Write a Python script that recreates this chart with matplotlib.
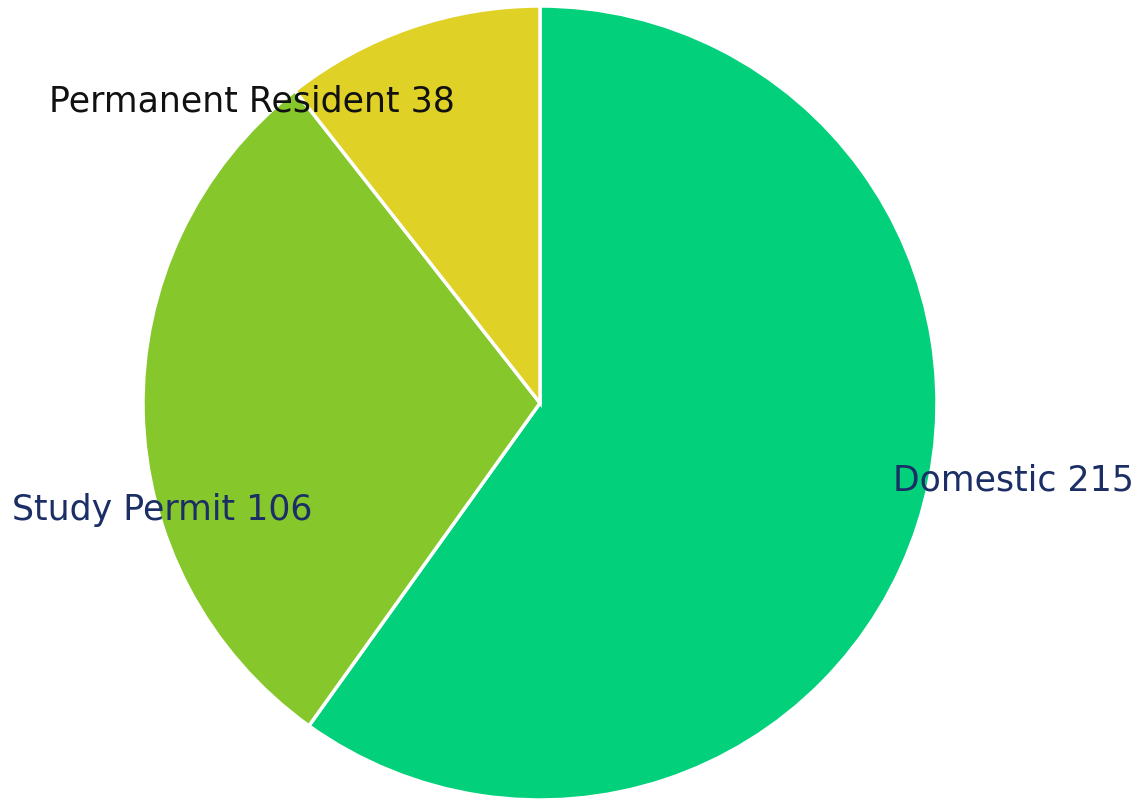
import matplotlib
matplotlib.use("Agg")
import matplotlib.pyplot as plt

categories = ["Domestic", "Study Permit", "Permanent Resident"]
counts = [215, 106, 38]
colors = ["#02D07B", "#86C72B", "#E0D126"]
label_colors = ["#1B2F66", "#1B2F66", "#111111"]

fig = plt.figure(figsize=(11.42, 8), dpi=100)
# axes sized so the pie sits where the reference draws it
ax = fig.add_axes([143 / 1142, 0, 794 / 1142, 794 / 800])

ax.pie(counts, colors=colors, startangle=90, counterclock=False,
       wedgeprops=dict(edgecolor="white", linewidth=2.5))
ax.set_xlim(-1, 1)
ax.set_ylim(-1, 1)
ax.set_aspect("equal")

# label positions (data coords) and alignment
label_pos = [(0.89, -0.195, "left"), (-0.573, -0.27, "right"), (-0.215, 0.76, "right")]
for name, n, col, (x, y, ha) in zip(categories, counts, label_colors, label_pos):
    ax.text(x, y, f"{name} {n}", ha=ha, va="center", fontsize=25,
            color=col, family="DejaVu Sans", clip_on=False)

fig.savefig("out.png", dpi=100)
